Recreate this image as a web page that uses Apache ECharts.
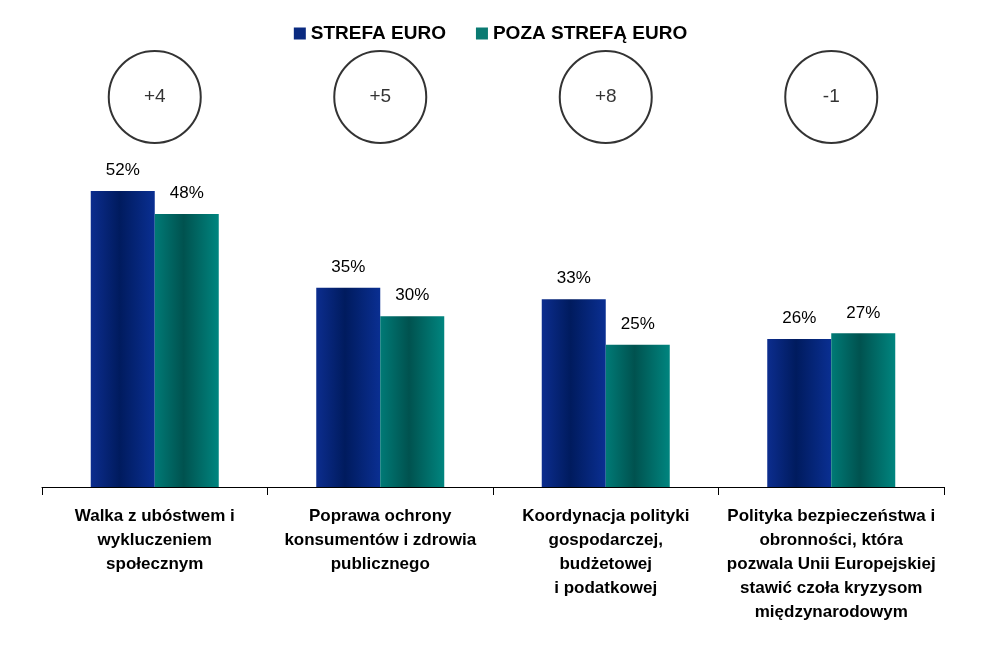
<!DOCTYPE html>
<html><head><meta charset="utf-8">
<script src="https://cdn.jsdelivr.net/npm/echarts@6/dist/echarts.min.js"></script>
<style>html,body{margin:0;padding:0;background:#fff}#c{width:981px;height:660px}</style>
</head><body><div id="c"></div>
<script>
const categories = [
  'Walka z ubóstwem i\nwykluczeniem\nspołecznym',
  'Poprawa ochrony\nkonsumentów i zdrowia\npublicznego',
  'Koordynacja polityki\ngospodarczej,\nbudżetowej\ni podatkowej',
  'Polityka bezpieczeństwa i\nobronności, która\npozwala Unii Europejskiej\nstawić czoła kryzysom\nmiędzynarodowym'
];
const seriesNames = ['STREFA EURO', 'POZA STREFĄ EURO'];
const strefaEuro = [52, 35, 33, 26];
const pozaStrefa = [48, 30, 25, 27];
const differences = ['+4', '+5', '+8', '-1'];

const chart = echarts.init(document.getElementById('c'));
const grad = (edge, dark, edge2) => new echarts.graphic.LinearGradient(0, 0, 1, 0, [
  {offset: 0, color: edge}, {offset: 0.45, color: dark}, {offset: 1, color: edge2}
]);
const navy = grad('#0c2d8e', '#001b5e', '#0a2f92');
const teal = grad('#007a76', '#00524f', '#00857f');

chart.setOption({
  animation: false,
  legend: {
    top: 19, left: 'center', itemWidth: 12, itemHeight: 12, itemGap: 30,
    icon: 'rect',
    textStyle: {fontFamily: 'Liberation Sans', fontWeight: 'bold', fontSize: 19, color: '#000'},
    data: [
      {name: seriesNames[0], itemStyle: {color: '#0a2a80'}},
      {name: seriesNames[1], itemStyle: {color: '#0a7a72'}}
    ]
  },
  grid: [
    {left: 42, right: 37, top: 145.6, bottom: 173},
    {left: 42, right: 37, top: 50, height: 94}
  ],
  xAxis: [
    {
      gridIndex: 0, type: 'category', data: categories,
      axisLine: {lineStyle: {color: '#000', width: 1}},
      axisTick: {show: true, length: 8, lineStyle: {color: '#000'}},
      axisLabel: {
        interval: 0, margin: 17, lineHeight: 24,
        fontFamily: 'Liberation Sans', fontWeight: 'bold', fontSize: 17, color: '#000'
      }
    },
    {gridIndex: 1, type: 'category', data: categories, show: false}
  ],
  yAxis: [
    {gridIndex: 0, type: 'value', min: 0, max: 60, show: false, splitLine: {show: false}},
    {gridIndex: 1, type: 'value', min: 0, max: 1, show: false, splitLine: {show: false}}
  ],
  series: [
    {
      name: seriesNames[0], type: 'bar', data: strefaEuro, barWidth: 64, barGap: '0%',
      itemStyle: {color: navy},
      label: {show: true, position: 'top', distance: 12, formatter: '{c}%',
        fontFamily: 'Liberation Sans', fontSize: 17, color: '#000'}
    },
    {
      name: seriesNames[1], type: 'bar', data: pozaStrefa, barWidth: 64,
      itemStyle: {color: teal},
      label: {show: true, position: 'top', distance: 12, formatter: '{c}%',
        fontFamily: 'Liberation Sans', fontSize: 17, color: '#000'}
    },
    {
      type: 'scatter', xAxisIndex: 1, yAxisIndex: 1,
      data: differences.map(d => ({value: 0.5, label: {formatter: d}})),
      symbol: 'circle', symbolSize: 92,
      itemStyle: {color: '#fff', borderColor: '#000', borderWidth: 2},
      label: {show: true, position: 'inside', fontFamily: 'Liberation Sans', fontSize: 19, color: '#000'},
      silent: true
    }
  ]
});
</script></body></html>
